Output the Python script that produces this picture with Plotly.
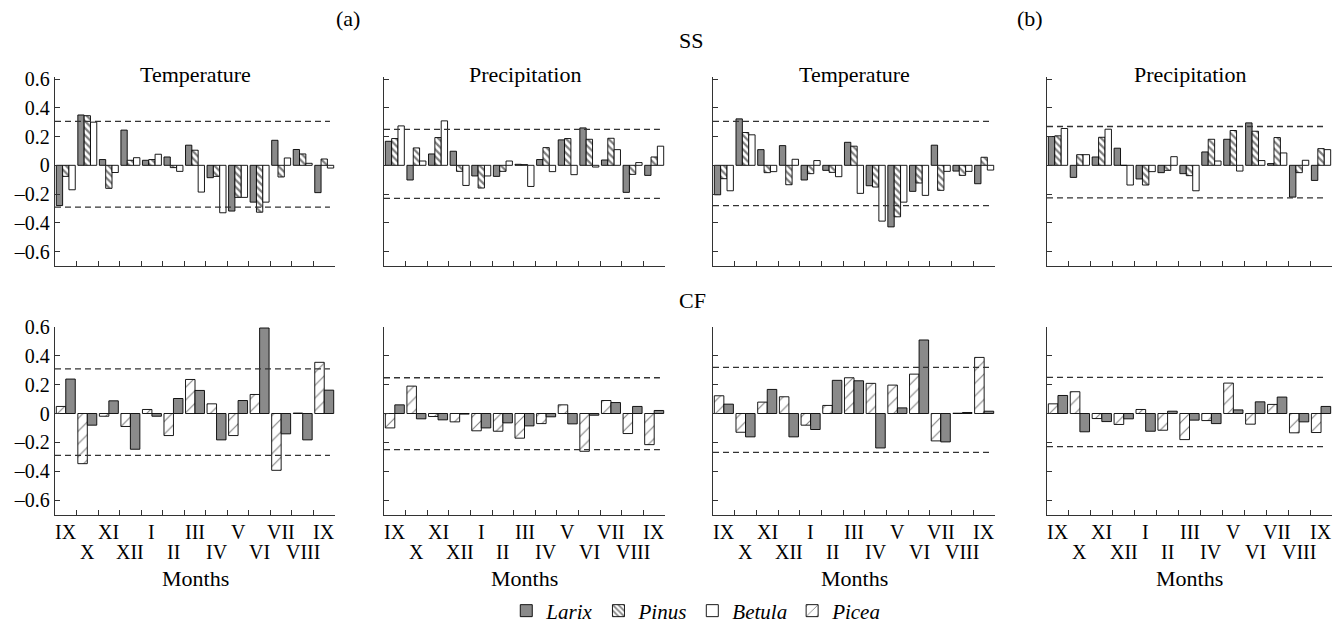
import plotly.graph_objects as go

MONTHS = ["IX", "X", "XI", "XII", "I", "II", "III", "IV", "V", "VI", "VII", "VIII", "IX"]
PANEL_TITLES = ["Temperature", "Precipitation", "Temperature", "Precipitation"]

# SS (top row): Larix, Pinus, Betula
SS_A_TEMP_LARIX = [-0.28, 0.35, 0.04, 0.245, 0.035, 0.058, 0.14, -0.086, -0.318, -0.256, 0.174, 0.11, -0.19]
SS_A_TEMP_PINUS = [-0.077, 0.345, -0.16, 0.035, 0.04, -0.016, 0.105, -0.077, -0.223, -0.326, -0.081, 0.079, 0.044]
SS_A_TEMP_BETULA = [-0.17, 0.30, -0.05, 0.053, 0.077, -0.042, -0.186, -0.33, -0.223, -0.256, 0.051, 0.014, -0.019]

SS_A_PREC_LARIX = [0.167, -0.102, 0.079, 0.098, -0.074, -0.077, 0.007, 0.04, 0.177, 0.26, 0.037, -0.188, -0.07]
SS_A_PREC_PINUS = [0.186, 0.121, 0.193, -0.042, -0.158, -0.042, 0.005, 0.123, 0.186, 0.181, 0.188, -0.063, 0.058]
SS_A_PREC_BETULA = [0.274, 0.03, 0.309, -0.14, -0.074, 0.03, -0.147, -0.044, -0.065, -0.012, 0.109, 0.019, 0.133]

SS_B_TEMP_LARIX = [-0.205, 0.323, 0.109, 0.137, -0.102, -0.035, 0.16, -0.142, -0.428, -0.181, 0.14, -0.04, -0.128]
SS_B_TEMP_PINUS = [-0.093, 0.228, -0.051, -0.135, -0.058, -0.049, 0.133, -0.151, -0.358, -0.123, -0.174, -0.07, 0.056]
SS_B_TEMP_BETULA = [-0.177, 0.212, -0.044, 0.042, 0.033, -0.079, -0.195, -0.388, -0.256, -0.209, -0.042, -0.042, -0.033]

SS_B_PREC_LARIX = [0.2, -0.084, 0.058, 0.119, -0.095, -0.051, -0.058, 0.093, 0.181, 0.295, 0.012, -0.221, -0.105]
SS_B_PREC_PINUS = [0.205, 0.074, 0.195, 0.0, -0.137, -0.035, -0.072, 0.181, 0.242, 0.237, 0.193, -0.051, 0.116]
SS_B_PREC_BETULA = [0.256, 0.074, 0.251, -0.137, -0.044, 0.06, -0.177, 0.03, -0.04, 0.033, 0.086, 0.035, 0.109]

# CF (bottom row): Picea, Larix
CF_A_TEMP_PICEA = [0.049, -0.348, -0.019, -0.09, 0.028, -0.153, 0.236, 0.067, -0.153, 0.132, -0.394, 0.003, 0.355]
CF_A_TEMP_LARIX = [0.239, -0.081, 0.088, -0.248, -0.019, 0.104, 0.16, -0.183, 0.09, 0.593, -0.141, -0.183, 0.162]
CF_A_PREC_PICEA = [-0.1, 0.19, -0.021, -0.058, -0.12, -0.123, -0.171, -0.07, 0.06, -0.262, 0.09, -0.139, -0.216]
CF_A_PREC_LARIX = [0.06, -0.037, -0.044, -0.004, -0.1, -0.065, -0.086, -0.023, -0.072, -0.012, 0.076, 0.049, 0.021]
CF_B_TEMP_PICEA = [0.123, -0.13, 0.079, 0.116, -0.081, 0.056, 0.248, 0.209, 0.197, 0.273, -0.19, 0.002, 0.389]
CF_B_TEMP_LARIX = [0.065, -0.162, 0.167, -0.162, -0.111, 0.23, 0.227, -0.239, 0.039, 0.51, -0.197, 0.007, 0.016]
CF_B_PREC_PICEA = [0.067, 0.151, -0.035, -0.076, 0.028, -0.116, -0.181, -0.049, 0.211, -0.074, 0.063, -0.134, -0.132]
CF_B_PREC_LARIX = [0.125, -0.127, -0.056, -0.037, -0.123, 0.016, -0.046, -0.07, 0.025, 0.081, 0.114, -0.058, 0.049]

# significance thresholds (dashed lines)
SS_UPPER = [0.305, 0.25, 0.305, 0.27]
SS_LOWER = [-0.29, -0.23, -0.28, -0.227]
CF_UPPER = [0.31, 0.248, 0.32, 0.25]
CF_LOWER = [-0.29, -0.25, -0.27, -0.23]

Y_TICKS = [-0.6, -0.4, -0.2, 0, 0.2, 0.4, 0.6]
Y_TICKTEXT = ["\u20130.6", "\u20130.4", "\u20130.2", "0", "0.2", "0.4", "0.6"]

FONT = "'Liberation Serif', 'Times New Roman', Tinos, serif"
GRAY = "#8a8a8a"
AX = "#333333"

SS_DATA = [
    (SS_A_TEMP_LARIX, SS_A_TEMP_PINUS, SS_A_TEMP_BETULA),
    (SS_A_PREC_LARIX, SS_A_PREC_PINUS, SS_A_PREC_BETULA),
    (SS_B_TEMP_LARIX, SS_B_TEMP_PINUS, SS_B_TEMP_BETULA),
    (SS_B_PREC_LARIX, SS_B_PREC_PINUS, SS_B_PREC_BETULA),
]
CF_DATA = [
    (CF_A_TEMP_PICEA, CF_A_TEMP_LARIX),
    (CF_A_PREC_PICEA, CF_A_PREC_LARIX),
    (CF_B_TEMP_PICEA, CF_B_TEMP_LARIX),
    (CF_B_PREC_PICEA, CF_B_PREC_LARIX),
]

W, H = 1339, 627
X_PX = [(55, 335), (384, 665), (713, 995), (1047, 1332)]
ROW_PX = [(77, 266), (327, 515)]
ROW_RANGE = [[-0.7, 0.614], [-0.704, 0.6]]

xs = list(range(len(MONTHS)))

def ax_names(k):
    return ("x" if k == 1 else f"x{k}", "y" if k == 1 else f"y{k}")

line = dict(color="black", width=0.9)
larix_style = dict(marker=dict(color=GRAY, line=line))
pinus_style = dict(marker=dict(color="white", line=line,
                               pattern=dict(shape="\\", fgcolor="black", bgcolor="white", size=5, solidity=0.45)))
betula_style = dict(marker=dict(color="white", line=line))
picea_style = dict(marker=dict(color="white", line=line,
                               pattern=dict(shape="/", fgcolor="black", bgcolor="white", size=9, solidity=0.12)))

fig = go.Figure()

for i, (la, pi, be) in enumerate(SS_DATA):
    xa, ya = ax_names(i + 1)
    first = i == 0
    fig.add_trace(go.Bar(x=xs, y=la, name="<i>Larix</i>", xaxis=xa, yaxis=ya, showlegend=first, legendgroup="larix", **larix_style))
    fig.add_trace(go.Bar(x=xs, y=pi, name="<i>Pinus</i>", xaxis=xa, yaxis=ya, showlegend=first, legendgroup="pinus", **pinus_style))
    fig.add_trace(go.Bar(x=xs, y=be, name="<i>Betula</i>", xaxis=xa, yaxis=ya, showlegend=first, legendgroup="betula", **betula_style))

for i, (pc, la) in enumerate(CF_DATA):
    xa, ya = ax_names(i + 5)
    first = i == 0
    fig.add_trace(go.Bar(x=xs, y=pc, name="<i>Picea</i>", xaxis=xa, yaxis=ya, showlegend=first, legendgroup="picea", **picea_style))
    fig.add_trace(go.Bar(x=xs, y=la, name="<i>Larix</i>", xaxis=xa, yaxis=ya, showlegend=False, legendgroup="larix", **larix_style))

layout = dict(
    width=W, height=H,
    margin=dict(l=0, r=0, t=0, b=0, autoexpand=False),
    paper_bgcolor="white", plot_bgcolor="white",
    barmode="group", bargap=0.12, bargroupgap=0,
    font=dict(family=FONT, size=20, color="black"),
    showlegend=True,
    legend=dict(orientation="h", x=0.52, xanchor="center", y=1 - 611 / H, yanchor="middle",
                font=dict(family=FONT, size=21, color="black"), traceorder="normal",
                itemwidth=30, bgcolor="rgba(0,0,0,0)"),
)

shapes = []
annotations = []
bound_ticks = [v + 0.5 for v in xs]

for k in range(1, 9):
    row = 0 if k <= 4 else 1
    col = (k - 1) % 4
    xa, ya = ax_names(k)
    x0, x1 = X_PX[col]
    ytop, ybot = ROW_PX[row]
    xkey = "xaxis" if k == 1 else f"xaxis{k}"
    ykey = "yaxis" if k == 1 else f"yaxis{k}"
    layout[xkey] = dict(
        domain=[x0 / W, x1 / W], anchor=ya, range=[-0.5, 12.5],
        showline=True, linecolor=AX, linewidth=1.3, mirror=False,
        showgrid=False, zeroline=False, automargin=False,
        tickmode="array", tickvals=bound_ticks, ticks="inside", ticklen=5, tickwidth=1.3, tickcolor=AX,
        showticklabels=False,
        fixedrange=True,
    )
    layout[ykey] = dict(
        domain=[1 - ybot / H, 1 - ytop / H], anchor=xa, range=ROW_RANGE[row],
        showline=True, linecolor=AX, linewidth=1.3, automargin=False,
        showgrid=False, zeroline=False,
        tickmode="array", tickvals=Y_TICKS, ticktext=Y_TICKTEXT,
        ticks="inside", ticklen=5, tickwidth=1.3, tickcolor=AX,
        showticklabels=(col == 0),
        tickfont=dict(family=FONT, size=20, color="black"),
        fixedrange=True,
    )
    up = SS_UPPER[col] if row == 0 else CF_UPPER[col]
    lo = SS_LOWER[col] if row == 0 else CF_LOWER[col]
    for v in (up, lo):
        shapes.append(dict(type="line", xref=f"{xa} domain", yref=ya, x0=0.0, x1=0.982, y0=v, y1=v,
                           line=dict(color=AX, width=1.3, dash="6px,4px"), layer="above"))
    cx = (x0 + x1) / 2 / W
    if row == 0:
        annotations.append(dict(text=PANEL_TITLES[col], x=cx, y=1 - 74 / H, xref="paper", yref="paper",
                                showarrow=False, font=dict(family=FONT, size=22, color="black"),
                                xanchor="center", yanchor="middle"))
    else:
        annotations.append(dict(text="Months", x=cx, y=1 - 578 / H, xref="paper", yref="paper",
                                showarrow=False, font=dict(family=FONT, size=22, color="black"),
                                xanchor="center", yanchor="middle"))
        for j, m in enumerate(MONTHS):
            ypx = 532 if j % 2 == 0 else 552
            annotations.append(dict(text=m, x=xs[j], y=1 - ypx / H, xref=xa, yref="paper",
                                    showarrow=False, font=dict(family=FONT, size=20, color="black"),
                                    xanchor="center", yanchor="middle"))

for txt, px, py in [("(a)", 348, 18), ("(b)", 1030, 18), ("SS", 691, 41), ("CF", 692, 300)]:
    annotations.append(dict(text=txt, x=px / W, y=1 - py / H, xref="paper", yref="paper", showarrow=False,
                            font=dict(family=FONT, size=22, color="black"), xanchor="center", yanchor="middle"))

layout["shapes"] = shapes
layout["annotations"] = annotations
fig.update_layout(**layout)

fig.write_html("out.html", config={"displayModeBar": False, "staticPlot": False},
               post_script="document.body.style.margin='0';document.body.style.padding='0';")
